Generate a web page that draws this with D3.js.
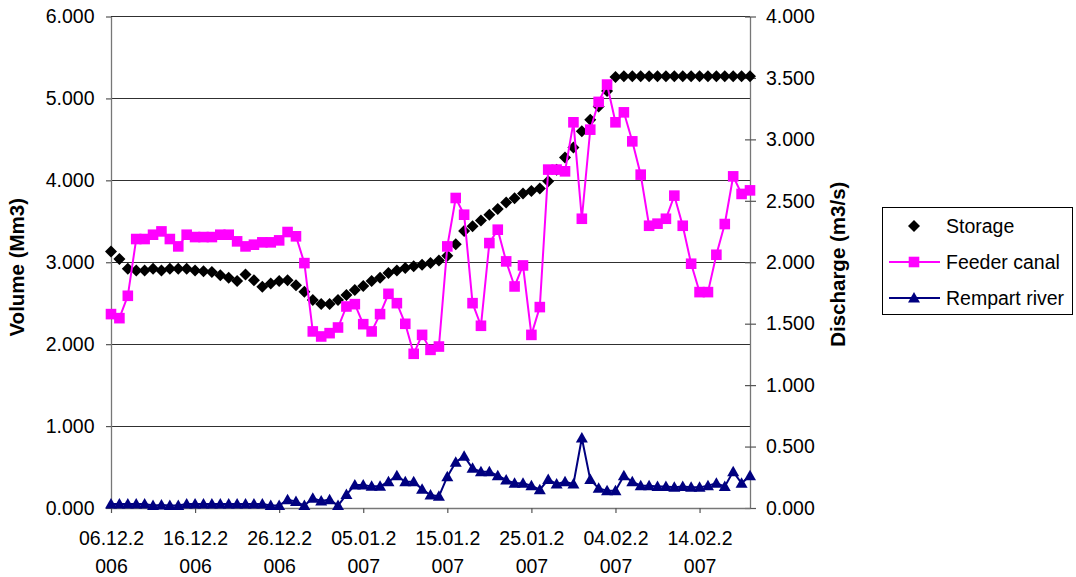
<!DOCTYPE html>
<html>
<head>
<meta charset="utf-8">
<script src="https://cdn.jsdelivr.net/npm/d3@7"></script>
<style>
  body { margin: 0; background: #fff; }
  svg { display: block; }
  text { font-family: "Liberation Sans", Arial, sans-serif; fill: #000; }
</style>
</head>
<body>
<svg id="chart" width="1076" height="577"></svg>
<script>
// Daily series, 06.12.2006 – 20.02.2007
const firstDay = "06.12.2006";
const dayCount = 77;

const xTickLabels = ["06.12.2006", "16.12.2006", "26.12.2006", "05.01.2007",
                     "15.01.2007", "25.01.2007", "04.02.2007", "14.02.2007"];
const volumeTicks = [0, 1, 2, 3, 4, 5, 6];
const dischargeTicks = [0, 0.5, 1, 1.5, 2, 2.5, 3, 3.5, 4];

// Reservoir storage (Mm3), left axis
const storage = [
  3.13, 3.04, 2.92, 2.90, 2.90, 2.92, 2.90, 2.92, 2.92, 2.92,
  2.90, 2.89, 2.88, 2.84, 2.81, 2.77, 2.85, 2.78, 2.70, 2.74,
  2.77, 2.78, 2.72, 2.64, 2.54, 2.49, 2.49, 2.54, 2.60, 2.66,
  2.71, 2.77, 2.81, 2.87, 2.90, 2.93, 2.95, 2.97, 2.99, 3.02,
  3.08, 3.22, 3.38, 3.44, 3.51, 3.58, 3.65, 3.73, 3.78, 3.84,
  3.87, 3.90, 3.99, 4.13, 4.28, 4.40, 4.60, 4.74, 4.90, 5.09,
  5.26, 5.27, 5.27, 5.27, 5.27, 5.27, 5.27, 5.27, 5.27, 5.27,
  5.27, 5.27, 5.27, 5.27, 5.27, 5.27, 5.27
];

// Feeder canal discharge (m3/s), right axis
const feederCanal = [
  1.578, 1.545, 1.727, 2.189, 2.189, 2.224, 2.251, 2.189, 2.129, 2.224,
  2.205, 2.205, 2.205, 2.224, 2.224, 2.170, 2.129, 2.143, 2.162, 2.162,
  2.178, 2.246, 2.211, 1.993, 1.437, 1.396, 1.423, 1.469, 1.640, 1.659,
  1.496, 1.437, 1.578, 1.743, 1.667, 1.499, 1.255, 1.409, 1.287, 1.314,
  2.129, 2.523, 2.387, 1.667, 1.483, 2.156, 2.265, 2.007, 1.803, 1.974,
  1.409, 1.635, 2.754, 2.754, 2.740, 3.139, 2.354, 3.079, 3.305, 3.446,
  3.139, 3.220, 2.984, 2.713, 2.297, 2.314, 2.354, 2.542, 2.297, 1.988,
  1.757, 1.757, 2.061, 2.311, 2.699, 2.556, 2.585
];

// Rempart river discharge (m3/s), right axis
const rempartRiver = [
  0.033, 0.033, 0.033, 0.033, 0.033, 0.020, 0.025, 0.020, 0.020, 0.033,
  0.033, 0.033, 0.033, 0.033, 0.033, 0.033, 0.033, 0.033, 0.033, 0.020,
  0.020, 0.068, 0.052, 0.020, 0.079, 0.057, 0.068, 0.020, 0.109, 0.187,
  0.187, 0.176, 0.176, 0.214, 0.263, 0.214, 0.214, 0.152, 0.105, 0.095,
  0.255, 0.372, 0.421, 0.323, 0.296, 0.296, 0.263, 0.228, 0.201, 0.201,
  0.182, 0.149, 0.231, 0.196, 0.214, 0.196, 0.570, 0.231, 0.160, 0.141,
  0.141, 0.263, 0.214, 0.182, 0.182, 0.175, 0.175, 0.168, 0.175, 0.168,
  0.168, 0.182, 0.201, 0.175, 0.296, 0.201, 0.263
];

const parseDay = d3.utcParse("%d.%m.%Y");
const t0 = parseDay(firstDay);
const dates = d3.range(dayCount).map(i => d3.utcDay.offset(t0, i));

const plot = { left: 111, right: 750, top: 16.5, bottom: 508 };
const FONT = 19.5;

const svg = d3.select("#chart");

const x = d3.scaleUtc().domain([dates[0], dates[dates.length - 1]]).range([plot.left, plot.right]);
const yL = d3.scaleLinear().domain([0, 6]).range([plot.bottom, plot.top]);
const yR = d3.scaleLinear().domain([0, 4]).range([plot.bottom, plot.top]);

// Horizontal gridlines at the volume ticks
svg.append("g")
  .selectAll("line")
  .data(volumeTicks.filter(v => v > 0))
  .join("line")
  .attr("x1", plot.left).attr("x2", plot.right)
  .attr("y1", d => yL(d)).attr("y2", d => yL(d))
  .attr("stroke", "#303030").attr("stroke-width", 1)
  .attr("shape-rendering", "crispEdges");

const axisColor = "#777";

// Left axis
const gL = svg.append("g")
  .attr("transform", `translate(${plot.left},0)`)
  .call(d3.axisLeft(yL).tickValues(volumeTicks).tickFormat(d3.format(".3f"))
    .tickSizeInner(5).tickSizeOuter(0).tickPadding(11.5));

// Right axis (ticks cross the axis line)
const gR = svg.append("g")
  .attr("transform", `translate(${plot.right},0)`)
  .call(d3.axisRight(yR).tickValues(dischargeTicks).tickFormat(d3.format(".3f"))
    .tickSizeInner(6).tickSizeOuter(0).tickPadding(10));
gR.selectAll(".tick line").attr("x1", -5);

// Bottom axis
const gB = svg.append("g")
  .attr("transform", `translate(0,${plot.bottom})`)
  .call(d3.axisBottom(x).tickValues(xTickLabels.map(parseDay)).tickFormat("")
    .tickSizeInner(5).tickSizeOuter(0));

[gL, gR, gB].forEach(g => {
  g.select(".domain").attr("stroke", axisColor).attr("stroke-width", 1.3);
  g.selectAll(".tick line").attr("stroke", "#555").attr("stroke-width", 1.2);
  g.selectAll("text").attr("font-size", FONT)
    .attr("font-family", '"Liberation Sans", Arial, sans-serif').attr("fill", "#000");
});

// Two-line date labels
gB.selectAll(".tick").each(function(d, i) {
  const lbl = xTickLabels[i];
  const t = d3.select(this).append("text")
    .attr("text-anchor", "middle")
    .attr("font-size", FONT)
    .attr("font-family", '"Liberation Sans", Arial, sans-serif')
    .attr("fill", "#000");
  t.append("tspan").attr("x", 0).attr("y", 37).text(lbl.slice(0, 7));
  t.append("tspan").attr("x", 0).attr("y", 65).text(lbl.slice(7));
});

// Axis titles
svg.append("text")
  .attr("transform", `translate(24,${(plot.top + plot.bottom) / 2 + 5}) rotate(-90)`)
  .attr("text-anchor", "middle")
  .attr("font-size", 20.5).attr("font-weight", "bold")
  .text("Volume (Mm3)");

svg.append("text")
  .attr("transform", `translate(845,${(plot.top + plot.bottom) / 2 + 2}) rotate(-90)`)
  .attr("text-anchor", "middle")
  .attr("font-size", 20.5).attr("font-weight", "bold")
  .text("Discharge (m3/s)");

// Marker shapes
const diamondPath = "M0,-6 L6,0 L0,6 L-6,0 Z";
const squarePath = "M-5.3,-5.3 L5.3,-5.3 L5.3,5.3 L-5.3,5.3 Z";
const trianglePath = "M0,-6 L6,4.5 L-6,4.5 Z";

const storagePts = dates.map((d, i) => ({ d, v: storage[i] }));
const feederPts = dates.map((d, i) => ({ d, v: feederCanal[i] }));
const rempartPts = dates.map((d, i) => ({ d, v: rempartRiver[i] }));

// Storage: markers only
svg.append("g").selectAll("path")
  .data(storagePts).join("path")
  .attr("d", diamondPath)
  .attr("transform", p => `translate(${x(p.d)},${yL(p.v)})`)
  .attr("fill", "#000");

const lineR = d3.line().x(p => x(p.d)).y(p => yR(p.v));

// Feeder canal
svg.append("path").datum(feederPts)
  .attr("d", lineR).attr("fill", "none")
  .attr("stroke", "#FF00FF").attr("stroke-width", 2);
svg.append("g").selectAll("path")
  .data(feederPts).join("path")
  .attr("d", squarePath)
  .attr("transform", p => `translate(${x(p.d)},${yR(p.v)})`)
  .attr("fill", "#FF00FF");

// Rempart river
svg.append("path").datum(rempartPts)
  .attr("d", lineR).attr("fill", "none")
  .attr("stroke", "#000080").attr("stroke-width", 2);
svg.append("g").selectAll("path")
  .data(rempartPts).join("path")
  .attr("d", trianglePath)
  .attr("transform", p => `translate(${x(p.d)},${yR(p.v)})`)
  .attr("fill", "#000080");

// Legend
const legend = svg.append("g");
legend.append("rect")
  .attr("x", 882.5).attr("y", 207.5).attr("width", 190).attr("height", 107)
  .attr("fill", "#fff").attr("stroke", "#000").attr("stroke-width", 1);

const legendItems = [
  { name: "Storage", color: "#000", marker: diamondPath, line: false },
  { name: "Feeder canal", color: "#FF00FF", marker: squarePath, line: true },
  { name: "Rempart river", color: "#000080", marker: trianglePath, line: true }
];
legendItems.forEach((it, i) => {
  const cy = 226 + i * 36;
  if (it.line) {
    legend.append("line")
      .attr("x1", 889).attr("x2", 940).attr("y1", cy).attr("y2", cy)
      .attr("stroke", it.color).attr("stroke-width", 2);
  }
  legend.append("path").attr("d", it.marker)
    .attr("transform", `translate(914,${cy})`).attr("fill", it.color);
  legend.append("text")
    .attr("x", 946).attr("y", cy + 6.5)
    .attr("font-size", FONT)
    .text(it.name);
});
</script>
</body>
</html>
